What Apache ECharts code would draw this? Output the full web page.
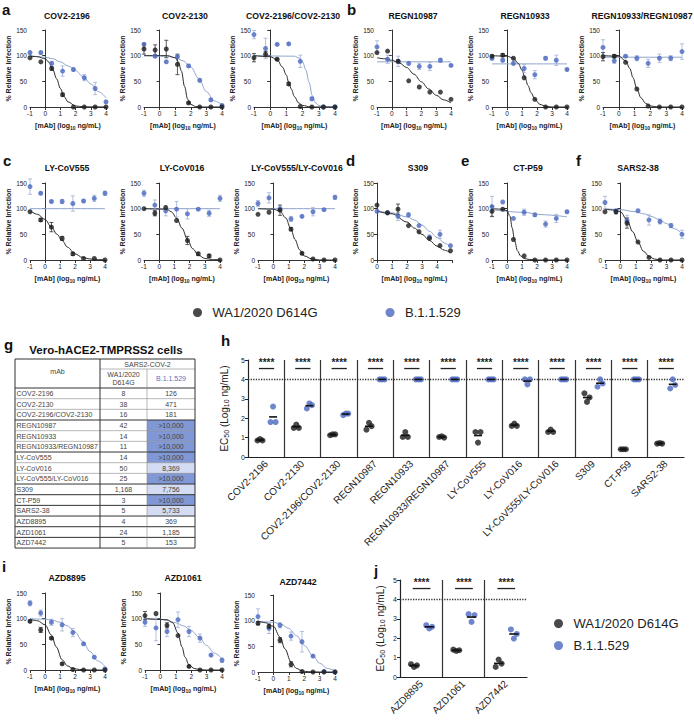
<!DOCTYPE html>
<html><head><meta charset="utf-8">
<script src="https://cdn.jsdelivr.net/npm/echarts@6/dist/echarts.min.js"></script>
<style>html,body{margin:0;padding:0;background:#fff}#c{width:694px;height:720px}</style>
</head><body><div id="c"></div>
<script>
const FONT = 'Liberation Sans, Arial, Helvetica, sans-serif';
const C_BLACK = '#1c1c1c', C_BLUE = '#4b68c0', C_BLACK_FIT = '#2a2a2a', C_BLUE_FIT = '#8fa4cc', C_BLUE_ERR = '#9fb0d6';

// log10 ng/mL dilution series
const doseX = [-1, -0.286, 0.429, 1.143, 1.857, 2.571, 3.286, 4];
const doseX_S309 = [0, 0.7, 1.4, 2.1, 2.8, 3.5, 4.2, 4.9];

// ---- panel a ----
const a1_wa1 = [96, 88, 75, 24, 0, 0, 0, 0];
const a1_wa1Err = [0, 0, 3, 3, 0, 0, 0, 0];
const a1_omi = [106, 106, 85, 70, 73, 57, 36, 10];
const a1_omiErr = [3, 3, 3, 10, 3, 6, 12, 2];
const a1_wa1Fit = [[-1,99],[-0.5,98],[0,94],[0.25,87],[0.5,73],[0.75,55],[1,36],[1.25,20],[1.5,10],[2,2],[2.5,0.3],[4,0]];
const a1_omiFit = [[-1,100],[0,97],[0.5,94],[1,88],[1.5,80],[2,71],[2.5,59],[3,45],[3.5,30],[4,18]];

const a2_wa1 = [113, 111, 113, 83, 8, 0, 0, 0];
const a2_wa1Err = [10, 10, 17, 20, 2, 0, 0, 0];
const a2_omi = [122, 99, 88, 98, 80, 52, 14, 3];
const a2_omiErr = [3, 3, 2, 2, 3, 3, 3, 2];
const a2_wa1Fit = [[-1,100],[0.5,100],[1,96],[1.2,88],[1.4,70],[1.6,40],[1.8,15],[2,5],[2.3,1],[2.6,0],[4,0]];
const a2_omiFit = [[-1,100],[0.5,99],[1,96],[1.5,90],[2,78],[2.5,56],[3,30],[3.5,12],[4,4]];

const a3_wa1 = [96, 103, 93, 45, 1, 0, 0, 0];
const a3_wa1Err = [8, 5, 2, 3, 0, 0, 0, 0];
const a3_omi = [141, 114, 122, 123, 89, 16, 0, 0];
const a3_omiErr = [8, 20, 2, 2, 12, 3, 0, 0];
const a3_wa1Fit = [[-1,100],[0,98],[0.43,92],[0.75,78],[1,62],[1.14,48],[1.3,35],[1.5,20],[1.75,8],[2,3],[2.5,0],[4,0]];
const a3_omiFit = [[-1,100],[1.5,99],[1.8,95],[2,88],[2.2,72],[2.4,48],[2.6,22],[2.8,8],[3,3],[3.3,0.5],[4,0]];

// ---- panel b ----
const b1_wa1 = [106, 109, 89, 51, 39, 29, 29, 15];
const b1_wa1Err = [0, 0, 3, 0, 0, 0, 0, 0];
const b1_omi = [117, 93, 89, 85, 79, 79, 91, 81];
const b1_omiErr = [12, 8, 10, 3, 6, 8, 4, 2];
const b1_wa1Fit = [[-1,96],[-0.5,94],[0,91],[0.5,86],[1,77],[1.5,64],[2,49],[2.5,35],[3,23],[3.5,14],[4,8]];
const b1_omiFit = [[-1,88],[4,88]];

const b2_wa1 = [99, 101, 95, 57, 15, 0, 0, 0];
const b2_wa1Err = [2, 3, 0, 0, 0, 0, 0, 0];
const b2_omi = [95, 91, 85, 75, 63, 95, 91, 73];
const b2_omiErr = [3, 3, 3, 8, 8, 3, 10, 2];
const b2_wa1Fit = [[-1,100],[0,99],[0.43,95],[0.75,85],[1,72],[1.2,57],[1.4,42],[1.6,28],[1.86,15],[2.2,5],[2.6,1],[3,0],[4,0]];
const b2_omiFit = [[-1,84],[4,84]];

const b3_wa1 = [98, 99, 87, 35, 2, 0, 0, 0];
const b3_wa1Err = [8, 3, 0, 0, 0, 0, 0, 0];
const b3_omi = [116, 90, 99, 95, 85, 95, 95, 108];
const b3_omiErr = [15, 5, 2, 5, 8, 8, 5, 15];
const b3_wa1Fit = [[-1,100],[0,99],[0.43,90],[0.7,75],[0.9,57],[1.14,36],[1.4,18],[1.7,7],[2,2],[2.5,0],[4,0]];
const b3_omiFit = [[-1,97],[4,97]];

// ---- panel c ----
const c1_wa1 = [94, 78, 64, 42, 12, 3, 3, 0];
const c1_wa1Err = [0, 3, 9, 4, 3, 0, 0, 0];
const c1_omi = [143, 130, 114, 114, 110, 115, 120, 130];
const c1_omiErr = [15, 2, 2, 4, 15, 2, 6, 4];
const c1_wa1Fit = [[-1,96],[-0.5,89],[0,79],[0.43,64],[0.8,50],[1.14,38],[1.5,25],[2,12],[2.5,5],[3,2],[3.5,1],[4,0]];
const c1_omiFit = [[-1,100],[4,100]];

const c2_wa1 = [100, 91, 102, 77, 38, 12, 8, 0];
const c2_wa1Err = [0, 5, 0, 0, 8, 3, 3, 0];
const c2_omi = [130, 107, 96, 99, 90, 99, 91, 120];
const c2_omiErr = [6, 10, 10, 15, 10, 2, 6, 6];
const c2_wa1Fit = [[-1,100],[0.5,99],[0.8,94],[1.14,82],[1.5,62],[1.86,40],[2.2,22],[2.6,9],[3,3],[3.5,1],[4,0]];
const c2_omiFit = [[-1,100],[4,100]];

const c3_wa1 = [89, 93, 97, 60, 13, 2, 0, 0];
const c3_wa1Err = [0, 0, 10, 3, 2, 0, 0, 0];
const c3_omi = [110, 121, 100, 80, 85, 94, 98, 122];
const c3_omiErr = [6, 10, 0, 5, 2, 8, 2, 4];
const c3_wa1Fit = [[-1,100],[0,99],[0.43,95],[0.8,82],[1.14,60],[1.4,40],[1.7,20],[2,8],[2.5,2],[3,0],[4,0]];
const c3_omiFit = [[-1,100],[4,100]];

// ---- panel d (S309) ----
const d_wa1 = [107, 92, 99, 67, 55, 42, 28, 18];
const d_wa1Err = [0, 0, 10, 0, 0, 0, 0, 0];
const d_omi = [95, 92, 85, 88, 67, 45, 50, 28];
const d_omiErr = [0, 0, 8, 4, 0, 0, 8, 0];
const d_wa1Fit = [[0,95],[1,90],[2,74],[2.5,62],[3,50],[3.5,38],[4,27],[4.5,19],[4.9,14]];
const d_omiFit = [[0,96],[1,92],[2,84],[2.5,78],[3,68],[3.5,56],[4,44],[4.5,33],[4.9,25]];

// ---- panel e (CT-P59) ----
const e_wa1 = [95, 99, 40, 8, 0, 0, 0, 0];
const e_wa1Err = [10, 0, 0, 0, 0, 0, 0, 0];
const e_omi = [104, 113, 81, 93, 88, 70, 81, 94];
const e_omiErr = [20, 0, 0, 6, 3, 6, 8, 2];
const e_wa1Fit = [[-1,100],[-0.29,99],[0,96],[0.2,85],[0.35,62],[0.5,38],[0.7,18],[0.9,8],[1.14,3],[1.5,1],[2,0],[4,0]];
const e_omiFit = [[-1,98],[1,93],[2.5,88],[4,84]];

// ---- panel f (SARS2-38) ----
const f_wa1 = [94, 94, 72, 35, 5, 0, 0, 0];
const f_wa1Err = [0, 4, 10, 0, 0, 0, 0, 0];
const f_omi = [112, 96, 77, 96, 78, 75, 67, 50];
const f_omiErr = [12, 0, 10, 0, 10, 5, 4, 8];
const f_wa1Fit = [[-1,99],[-0.29,97],[0,94],[0.43,78],[0.8,55],[1.14,35],[1.5,17],[1.86,7],[2.2,2],[2.6,0],[4,0]];
const f_omiFit = [[-1,100],[0,98],[1,94],[1.5,90],[2,85],[2.5,79],[3,71],[3.5,61],[4,51]];

// ---- panel i ----
const i1_wa1 = [95, 78, 62, 12, 1, 0, 0, 0];
const i1_wa1Err = [2, 5, 2, 2, 0, 0, 0, 0];
const i1_omi = [130, 111, 93, 88, 73, 51, 25, 2];
const i1_omiErr = [5, 6, 6, 12, 8, 2, 2, 0];
const i1_wa1Fit = [[-1,99],[-0.5,96],[0,88],[0.43,68],[0.75,45],[1.14,20],[1.5,8],[1.86,3],[2.3,1],[3,0],[4,0]];
const i1_omiFit = [[-1,100],[0,99],[0.5,97],[1,93],[1.5,86],[2,74],[2.5,56],[3,36],[3.5,18],[4,7]];

const i2_wa1 = [106, 110, 87, 67, 7, 0, 0, 0];
const i2_wa1Err = [8, 0, 5, 0, 2, 0, 0, 0];
const i2_omi = [93, 82, 75, 98, 75, 62, 29, 19];
const i2_omiErr = [8, 25, 10, 15, 10, 8, 2, 4];
const i2_wa1Fit = [[-1,100],[0.43,98],[0.8,92],[1.14,72],[1.4,45],[1.6,25],[1.86,10],[2.2,3],[2.6,0.5],[3,0],[4,0]];
const i2_omiFit = [[-1,100],[0,99],[0.5,96],[1,92],[1.5,86],[2,77],[2.5,64],[3,48],[3.5,33],[4,22]];

const i3_wa1 = [95, 89, 62, 15, 1, 0, 0, 0];
const i3_wa1Err = [3, 4, 5, 5, 0, 0, 0, 0];
const i3_omi = [108, 85, 91, 70, 59, 31, 1, 0];
const i3_omiErr = [15, 10, 5, 8, 20, 2, 0, 0];
const i3_wa1Fit = [[-1,99],[-0.5,96],[0,89],[0.43,68],[0.75,45],[1.14,20],[1.5,7],[1.86,2],[2.3,0.5],[3,0],[4,0]];
const i3_omiFit = [[-1,99],[0,97],[0.5,93],[1,85],[1.5,71],[2,52],[2.57,32],[3,17],[3.5,7],[4,2]];

// ---- panel h / j (EC50, log10 ng/mL) ----
const hCats = ['COV2-2196','COV2-2130','COV2-2196/COV2-2130','REGN10987','REGN10933','REGN10933/REGN10987','LY-CoV555','LY-CoV016','LY-CoV555/LY-CoV016','S309','CT-P59','SARS2-38'];
const hWa1 = [[0.85,0.92,0.85],[1.5,1.67,1.5],[1.12,1.17,1.17],[1.41,1.76,1.59],[1.03,1.29,1.03],[1.03,1.07,1.0],[1.29,0.74,1.29],[1.6,1.72,1.6],[1.29,1.41,1.29],[3.28,2.84,3.07],[0.4,0.4,0.4],[0.69,0.72,0.69]];
const hOmi = [[1.8,2.6,1.8],[2.5,2.76,2.67],[2.16,2.24,2.24],[4,4,4],[4,4,4],[4,4,4],[4,4,4],[4,3.74,4],[4,4,4],[3.62,4.0,3.79],[4,4,4],[3.53,4.0,3.71]];
const jCats = ['AZD8895','AZD1061','AZD7442'];
const jWa1 = [[0.66,0.52,0.6],[1.41,1.34,1.38],[0.52,0.9,0.69]];
const jOmi = [[2.67,2.5,2.59],[3.24,2.84,3.19],[2.45,1.98,2.22]];
const limitOfDetection = 4;
const sigLabel = '****';

// ---- panel g table ----
const tableMab = ['COV2-2196','COV2-2130','COV2-2196/COV2-2130','REGN10987','REGN10933','REGN10933/REGN10987','LY-CoV555','LY-CoV016','LY-CoV555/LY-CoV016','S309','CT-P59','SARS2-38','AZD8895','AZD1061','AZD7442'];
const tableWA1 = ['8','38','16','42','14','11','14','50','25','1,168','3','5','4','24','5'];
const tableOmicron = ['126','471','181','>10,000','>10,000','>10,000','>10,000','8,369','>10,000','7,756','>10,000','5,733','369','1,185','153'];

const SERIES_WA1 = 'WA1/2020 D614G', SERIES_OMI = 'B.1.1.529';

// ===================== build =====================
const grids = [], xAxes = [], yAxes = [], series = [], graphics = [];

const curvePlots = [
  {title:'COV2-2196', x:doseX, wa1:a1_wa1, wa1Err:a1_wa1Err, omi:a1_omi, omiErr:a1_omiErr, wa1Fit:a1_wa1Fit, omiFit:a1_omiFit, xmin:-1, xmax:4},
  {title:'COV2-2130', x:doseX, wa1:a2_wa1, wa1Err:a2_wa1Err, omi:a2_omi, omiErr:a2_omiErr, wa1Fit:a2_wa1Fit, omiFit:a2_omiFit, xmin:-1, xmax:4},
  {title:'COV2-2196/COV2-2130', x:doseX, wa1:a3_wa1, wa1Err:a3_wa1Err, omi:a3_omi, omiErr:a3_omiErr, wa1Fit:a3_wa1Fit, omiFit:a3_omiFit, xmin:-1, xmax:4},
  {title:'REGN10987', x:doseX, wa1:b1_wa1, wa1Err:b1_wa1Err, omi:b1_omi, omiErr:b1_omiErr, wa1Fit:b1_wa1Fit, omiFit:b1_omiFit, xmin:-1, xmax:4},
  {title:'REGN10933', x:doseX, wa1:b2_wa1, wa1Err:b2_wa1Err, omi:b2_omi, omiErr:b2_omiErr, wa1Fit:b2_wa1Fit, omiFit:b2_omiFit, xmin:-1, xmax:4},
  {title:'REGN10933/REGN10987', x:doseX, wa1:b3_wa1, wa1Err:b3_wa1Err, omi:b3_omi, omiErr:b3_omiErr, wa1Fit:b3_wa1Fit, omiFit:b3_omiFit, xmin:-1, xmax:4},
  {title:'LY-CoV555', x:doseX, wa1:c1_wa1, wa1Err:c1_wa1Err, omi:c1_omi, omiErr:c1_omiErr, wa1Fit:c1_wa1Fit, omiFit:c1_omiFit, xmin:-1, xmax:4},
  {title:'LY-CoV016', x:doseX, wa1:c2_wa1, wa1Err:c2_wa1Err, omi:c2_omi, omiErr:c2_omiErr, wa1Fit:c2_wa1Fit, omiFit:c2_omiFit, xmin:-1, xmax:4},
  {title:'LY-CoV555/LY-CoV016', x:doseX, wa1:c3_wa1, wa1Err:c3_wa1Err, omi:c3_omi, omiErr:c3_omiErr, wa1Fit:c3_wa1Fit, omiFit:c3_omiFit, xmin:-1, xmax:4},
  {title:'S309', x:doseX_S309, wa1:d_wa1, wa1Err:d_wa1Err, omi:d_omi, omiErr:d_omiErr, wa1Fit:d_wa1Fit, omiFit:d_omiFit, xmin:0, xmax:5},
  {title:'CT-P59', x:doseX, wa1:e_wa1, wa1Err:e_wa1Err, omi:e_omi, omiErr:e_omiErr, wa1Fit:e_wa1Fit, omiFit:e_omiFit, xmin:-1, xmax:4},
  {title:'SARS2-38', x:doseX, wa1:f_wa1, wa1Err:f_wa1Err, omi:f_omi, omiErr:f_omiErr, wa1Fit:f_wa1Fit, omiFit:f_omiFit, xmin:-1, xmax:4},
  {title:'AZD8895', x:doseX, wa1:i1_wa1, wa1Err:i1_wa1Err, omi:i1_omi, omiErr:i1_omiErr, wa1Fit:i1_wa1Fit, omiFit:i1_omiFit, xmin:-1, xmax:4},
  {title:'AZD1061', x:doseX, wa1:i2_wa1, wa1Err:i2_wa1Err, omi:i2_omi, omiErr:i2_omiErr, wa1Fit:i2_wa1Fit, omiFit:i2_omiFit, xmin:-1, xmax:4},
  {title:'AZD7442', x:doseX, wa1:i3_wa1, wa1Err:i3_wa1Err, omi:i3_omi, omiErr:i3_omiErr, wa1Fit:i3_wa1Fit, omiFit:i3_omiFit, xmin:-1, xmax:4}
];
// layout: left, top, width, title center x, title y
const curveLayout = [
  [30,30,76,67,16],[144,30,78,185,16],[254,30,81,293,16],[377,30,74,413,16],[492,30,75,525,16],[603,30,79,642,16],
  [30,183,75,67,168],[144,183,76,182,168],[258,183,77,297,168],[377,183,75,418,168],[492,183,75,528,168],[605,183,77,638,168],
  [30,593,75,67,578],[145,593,77,183,578],[258,595,77,298,582]
];

const axisLineStyle = {color:'#333', width:1};
function errSeries(gi, xs, vals, errs, color) {
  const data = [];
  xs.forEach((x, k) => { if (errs[k] > 0) data.push([x, vals[k] - errs[k], vals[k] + errs[k]]); });
  return {type:'custom', xAxisIndex:gi, yAxisIndex:gi, data, silent:true, z:3, encode:{x:0, y:[1,2]},
    renderItem(params, api) {
      const x = api.value(0);
      const a = api.coord([x, api.value(1)]), b = api.coord([x, api.value(2)]);
      const w = 2, st = {stroke:color, lineWidth:0.8};
      return {type:'group', children:[
        {type:'line', shape:{x1:a[0],y1:a[1],x2:b[0],y2:b[1]}, style:st},
        {type:'line', shape:{x1:a[0]-w,y1:a[1],x2:a[0]+w,y2:a[1]}, style:st},
        {type:'line', shape:{x1:b[0]-w,y1:b[1],x2:b[0]+w,y2:b[1]}, style:st}
      ]};
    }};
}

curvePlots.forEach((p, gi) => {
  const [left, top, width, tx, ty] = curveLayout[gi];
  grids.push({left, top, width, height:77});
  xAxes.push({gridIndex:gi, type:'value', min:p.xmin, max:p.xmax, interval:1,
    axisLine:{lineStyle:axisLineStyle}, axisTick:{length:3, lineStyle:axisLineStyle},
    axisLabel:{fontSize:6.5, color:'#222', margin:3, fontFamily:FONT, formatter:v => v > 4 ? '' : String(v)},
    splitLine:{show:false},
    name:'{t|[mAb] (log}{s|10}{t| ng/mL)}', nameLocation:'middle', nameGap:14,
    nameTextStyle:{rich:{t:{fontSize:7, fontWeight:'bold', color:'#222', fontFamily:FONT, lineHeight:9},
                         s:{fontSize:5, fontWeight:'bold', color:'#222', fontFamily:FONT, verticalAlign:'bottom', lineHeight:9}}}});
  yAxes.push({gridIndex:gi, type:'value', min:0, max:150, interval:50,
    axisLine:{show:true, lineStyle:axisLineStyle}, axisTick:{show:true, length:3, lineStyle:axisLineStyle},
    axisLabel:{fontSize:6.5, color:'#222', margin:3, fontFamily:FONT}, splitLine:{show:false},
    name:'% Relative Infection', nameLocation:'middle', nameGap:14,
    nameTextStyle:{fontSize:7, fontWeight:'bold', color:'#222', fontFamily:FONT}});
  series.push({type:'line', name:'fit-b', xAxisIndex:gi, yAxisIndex:gi, data:p.omiFit, smooth:0.35, smoothMonotone:'x', showSymbol:false, symbol:'none', silent:true, lineStyle:{color:C_BLUE_FIT, width:1}, z:2});
  series.push({type:'line', name:'fit-w', xAxisIndex:gi, yAxisIndex:gi, data:p.wa1Fit, smooth:0.35, smoothMonotone:'x', showSymbol:false, symbol:'none', silent:true, lineStyle:{color:C_BLACK_FIT, width:1}, z:2});
  series.push(errSeries(gi, p.x, p.omi, p.omiErr, C_BLUE_ERR));
  series.push({type:'scatter', name:SERIES_OMI, xAxisIndex:gi, yAxisIndex:gi, data:p.x.map((x,k)=>[x,p.omi[k]]), symbolSize:5, itemStyle:{color:C_BLUE}, z:4, silent:true});
  series.push(errSeries(gi, p.x, p.wa1, p.wa1Err, '#333'));
  series.push({type:'scatter', name:SERIES_WA1, xAxisIndex:gi, yAxisIndex:gi, data:p.x.map((x,k)=>[x,p.wa1[k]]), symbolSize:5, itemStyle:{color:C_BLACK}, z:5, silent:true});
  graphics.push({type:'text', x:tx, y:ty, style:{text:p.title, font:'bold 8.7px ' + FONT, fill:'#111', align:'center', verticalAlign:'middle', textAlign:'center', textVerticalAlign:'middle'}});
});

// EC50 panels
function ecPanel(cats, wa1, omi, left, top, width) {
  const gi = grids.length;
  grids.push({left, top, width, height:97});
  xAxes.push({gridIndex:gi, type:'category', data:cats, boundaryGap:true, position:'bottom',
    axisLine:{lineStyle:{color:'#222', width:1.2}}, axisTick:{alignWithLabel:true, length:4, lineStyle:{color:'#222'}},
    axisLabel:{rotate:45, interval:0, fontSize:10, margin:5, color:'#222', fontFamily:FONT}, splitLine:{show:false}});
  const xVal = xAxes.length;
  xAxes.push({gridIndex:gi, type:'value', min:0, max:cats.length, interval:1, position:'bottom',
    axisLine:{show:false}, axisTick:{show:false}, axisLabel:{show:false},
    splitLine:{show:true, showMinLine:false, showMaxLine:false, lineStyle:{color:'#333', width:1.2}}});
  const yi = yAxes.length;
  yAxes.push({gridIndex:gi, type:'value', min:0, max:5, interval:1,
    axisLine:{show:true, lineStyle:{color:'#222', width:1.2}}, axisTick:{show:true, length:3, lineStyle:{color:'#222'}},
    axisLabel:{fontSize:7, color:'#222', margin:3, fontFamily:FONT}, splitLine:{show:false},
    name:'{t|EC}{s|50}{t| (Log}{s|10}{t| ng/mL)}', nameLocation:'middle', nameGap:14,
    nameTextStyle:{rich:{t:{fontSize:10, color:'#222', fontFamily:FONT, lineHeight:12},
                         s:{fontSize:7, color:'#222', fontFamily:FONT, verticalAlign:'bottom', lineHeight:12}}}});
  const off = [-0.07, 0, 0.07];
  const wPts = [], oPts = [], wMean = [], oMean = [];
  cats.forEach((c, i) => {
    wa1[i].forEach((v, k) => wPts.push([i + 0.33 + off[k], v]));
    omi[i].forEach((v, k) => oPts.push([i + 0.69 + off[k], v]));
    wMean.push([i + 0.33, wa1[i].reduce((s, v) => s + v, 0) / wa1[i].length]);
    oMean.push([i + 0.69, omi[i].reduce((s, v) => s + v, 0) / omi[i].length]);
  });
  const meanSeries = (data, color) => ({type:'custom', xAxisIndex:xVal, yAxisIndex:yi, data, silent:true, z:6, encode:{x:0,y:1},
    renderItem(params, api) {
      const a = api.coord([api.value(0) - 0.11, api.value(1)]), b = api.coord([api.value(0) + 0.11, api.value(1)]);
      return {type:'line', shape:{x1:a[0],y1:a[1],x2:b[0],y2:b[1]}, style:{stroke:color, lineWidth:1.6}};
    }});
  series.push({type:'scatter', name:SERIES_WA1, xAxisIndex:xVal, yAxisIndex:yi, data:wPts, symbolSize:6, itemStyle:{color:C_BLACK}, z:5, silent:true,
    markLine:{silent:true, symbol:'none', label:{show:false}, lineStyle:{type:'dotted', color:'#333', width:1.3}, data:[{yAxis:limitOfDetection}]}});
  series.push({type:'scatter', name:SERIES_OMI, xAxisIndex:xVal, yAxisIndex:yi, data:oPts, symbolSize:6, itemStyle:{color:C_BLUE}, z:5, silent:true});
  series.push(meanSeries(wMean, '#111'));
  series.push(meanSeries(oMean, '#111'));
  series.push({type:'custom', xAxisIndex:xVal, yAxisIndex:yi, data:cats.map((c,i)=>[i]), silent:true, z:6, encode:{x:0},
    renderItem(params, api) {
      const i = api.value(0);
      const t = api.coord([i + 0.51, 4.88]);
      const a = api.coord([i + 0.3, 4.56]), b = api.coord([i + 0.72, 4.56]);
      return {type:'group', children:[
        {type:'text', x:t[0], y:t[1], style:{text:sigLabel, font:'bold 10px ' + FONT, fill:'#222', align:'center', verticalAlign:'middle'}},
        {type:'line', shape:{x1:a[0],y1:a[1],x2:b[0],y2:b[1]}, style:{stroke:'#222', lineWidth:1.3}}
      ]};
    }});
}
ecPanel(hCats, hWa1, hOmi, 248, 360, 436);
ecPanel(jCats, jWa1, jOmi, 400, 580, 127);

// panel letters
[['a',2,2],['b',347,2],['c',3,153],['d',346,153],['e',461,153],['f',576,153],['g',4,337],['h',221,333],['i',2,559],['j',374,563]].forEach(([t,x,y]) => {
  graphics.push({type:'text', x, y, style:{text:t, font:'bold 15px ' + FONT, fill:'#111'}});
});

// table g
graphics.push({type:'text', x:106, y:350, style:{text:'Vero-hACE2-TMPRSS2 cells', font:'bold 11.5px ' + FONT, fill:'#111', align:'center', verticalAlign:'middle', textAlign:'center', textVerticalAlign:'middle'}});
const TX0 = 15, TX1 = 100, TX2 = 147, TX3 = 195, TY0 = 359, TY1 = 369, TY2 = 388, RH = 10.67;
const tFont = '7px ' + FONT, tCol = '#444';
tableMab.forEach((m, r) => {
  const y = TY2 + r * RH;
  const v = tableOmicron[r];
  let fill = '#fff';
  if (v.startsWith('>')) fill = '#8098d6';
  else if (parseFloat(v.replace(/,/g,'')) >= 5000) fill = '#d3dcf2';
  graphics.push({type:'rect', shape:{x:TX2, y, width:TX3-TX2, height:RH}, style:{fill, stroke:'none'}});
  graphics.push({type:'text', x:TX0 + 1.5, y:y + RH/2, style:{text:m, font:tFont, fill:tCol, verticalAlign:'middle', textVerticalAlign:'middle'}});
  graphics.push({type:'text', x:(TX1+TX2)/2, y:y + RH/2, style:{text:tableWA1[r], font:tFont, fill:tCol, align:'center', verticalAlign:'middle', textAlign:'center', textVerticalAlign:'middle'}});
  graphics.push({type:'text', x:(TX2+TX3)/2, y:y + RH/2, style:{text:v, font:tFont, fill:tCol, align:'center', verticalAlign:'middle', textAlign:'center', textVerticalAlign:'middle'}});
});
const TYEND = TY2 + tableMab.length * RH;
const thin = {stroke:'#888', lineWidth:0.6}, thick = {stroke:'#333', lineWidth:1};
const hl = (x1, x2, y, st) => graphics.push({type:'line', shape:{x1, y1:y, x2, y2:y}, style:st});
const vl = (x, y1, y2, st) => graphics.push({type:'line', shape:{x1:x, y1, x2:x, y2}, style:st});
hl(TX0, TX3, TY0, thick); hl(TX1, TX3, TY1, thin); hl(TX0, TX3, TY2, thick); hl(TX0, TX3, TYEND, thick);
const groupEnds = [3, 6, 9, 10, 11, 12, 13, 14];
for (let r = 1; r < tableMab.length; r++) hl(TX0, TX3, TY2 + r * RH, groupEnds.includes(r) ? thick : thin);
vl(TX0, TY0, TYEND, thick); vl(TX1, TY0, TYEND, thick); vl(TX2, TY1, TYEND, thin); vl(TX3, TY0, TYEND, thick);
graphics.push({type:'text', x:(TX0+TX1)/2, y:(TY0+TY2)/2 - 2, style:{text:'mAb', font:tFont, fill:tCol, align:'center', verticalAlign:'middle', textAlign:'center', textVerticalAlign:'middle'}});
graphics.push({type:'text', x:(TX1+TX3)/2, y:(TY0+TY1)/2, style:{text:'SARS2-COV-2', font:tFont, fill:tCol, align:'center', verticalAlign:'middle', textAlign:'center', textVerticalAlign:'middle'}});
graphics.push({type:'text', x:(TX1+TX2)/2, y:(TY1+TY2)/2, style:{text:'WA1/2020\nD614G', font:tFont, fill:tCol, align:'center', verticalAlign:'middle', textAlign:'center', textVerticalAlign:'middle', lineHeight:8.5}});
graphics.push({type:'text', x:(TX2+TX3)/2, y:(TY1+TY2)/2, style:{text:'B.1.1.529', font:tFont, fill:'#5a72c0', align:'center', verticalAlign:'middle', textAlign:'center', textVerticalAlign:'middle'}});

const chart = echarts.init(document.getElementById('c'), null, {renderer:'svg'});
chart.setOption({
  animation:false,
  backgroundColor:'#fff',
  textStyle:{fontFamily:FONT},
  legend:[
    {data:[SERIES_WA1, SERIES_OMI], left:188, top:301, itemGap:68, icon:'circle', itemWidth:20, itemHeight:9, selectedMode:false,
     textStyle:{fontSize:13, color:'#222', fontFamily:FONT}},
    {data:[SERIES_WA1, SERIES_OMI], orient:'vertical', left:549, top:612, itemGap:9, icon:'circle', itemWidth:20, itemHeight:9, selectedMode:false,
     textStyle:{fontSize:13, color:'#222', fontFamily:FONT}}
  ],
  grid:grids, xAxis:xAxes, yAxis:yAxes, series, graphic:graphics
});
</script></body></html>
